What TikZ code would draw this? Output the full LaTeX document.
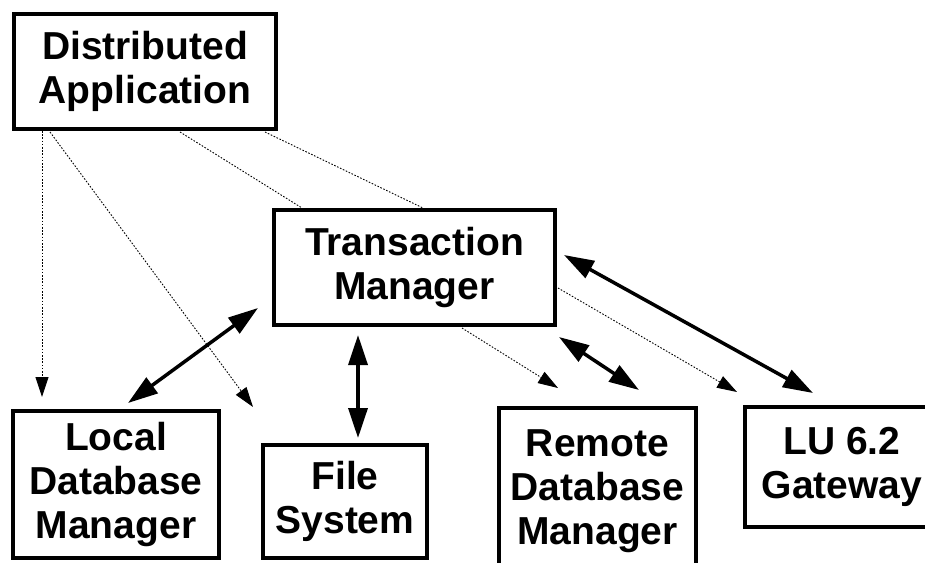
\documentclass[tikz,border=0pt]{standalone}
\usepackage{fontspec}
\setmainfont{Liberation Sans}
\usetikzlibrary{arrows.meta}
\begin{document}
\begin{tikzpicture}[x=1pt,y=-1pt,
  box/.style={draw, line width=4pt, fill=white, outer sep=0pt, inner sep=0pt,
    align=center, font=\fontsize{39}{44}\selectfont\bfseries},
  dotline/.style={line width=0.9pt, dash pattern=on 1.6pt off 1.6pt},
  dotarrow/.style={dotline, -{Triangle[length=20pt,width=13pt]}},
  solidarrow/.style={line width=3.5pt,
    {Triangle[length=30pt,width=19pt]}-{Triangle[length=30pt,width=19pt]}}]
\useasboundingbox (0,0) rectangle (925,562);
\clip (0,0) rectangle (925,562);
% boxes
\node[box, minimum width=262pt, minimum height=115pt] (da) at (145,71.5) {Distributed\\Application};
\node[box, minimum width=281pt, minimum height=115pt] (tm) at (414.5,267.5) {Transaction\\Manager};
\node[box, minimum width=206pt, minimum height=147pt] (local) at (116,484.5) {Local\\Database\\Manager};
\node[box, minimum width=164pt, minimum height=113pt] (fs) at (345,501.5) {File\\System};
\node[box, minimum width=197pt, minimum height=167pt] (remote) at (597.5,491.5) {Remote\\Database\\Manager};
\node[box, minimum width=194pt, minimum height=120pt] (lu) at (842,467) {LU 6.2\\Gateway};
% dotted connectors
\draw[dotarrow] ([xshift=28pt,yshift=-2pt]da.south west) -- ([xshift=-74pt,yshift=14pt]local.north);
\draw[dotarrow] ([xshift=36pt,yshift=-3pt]da.south west) -- ([xshift=-10pt,yshift=38pt]fs.north west);
\draw[dotline] ([xshift=35pt,yshift=-3pt]da.south) -- ([xshift=28pt,yshift=2pt]tm.north west);
\draw[dotline] ([xshift=-11pt,yshift=-3pt]da.south east) -- ([xshift=8.5pt,yshift=2pt]tm.north);
\draw[dotarrow] ([xshift=47.5pt,yshift=-3pt]tm.south) -- ([xshift=59pt,yshift=20pt]remote.north west);
\draw[dotarrow] ([xshift=3pt,yshift=-20.5pt]tm.east) -- ([xshift=-8pt,yshift=15pt]lu.north west);
% solid double arrows
\draw[solidarrow] ([xshift=-16pt,yshift=17pt]tm.south west) -- ([xshift=12pt,yshift=8pt]local.north);
\draw[solidarrow] ([xshift=-56.5pt,yshift=-10pt]tm.south) -- ([xshift=13pt,yshift=7pt]fs.north);
\draw[solidarrow] ([xshift=4pt,yshift=-12pt]tm.south east) -- ([xshift=41.5pt,yshift=18pt]remote.north);
\draw[solidarrow] ([xshift=9pt,yshift=12.5pt]tm.east) -- ([xshift=-29pt,yshift=14pt]lu.north);
\end{tikzpicture}
\end{document}
